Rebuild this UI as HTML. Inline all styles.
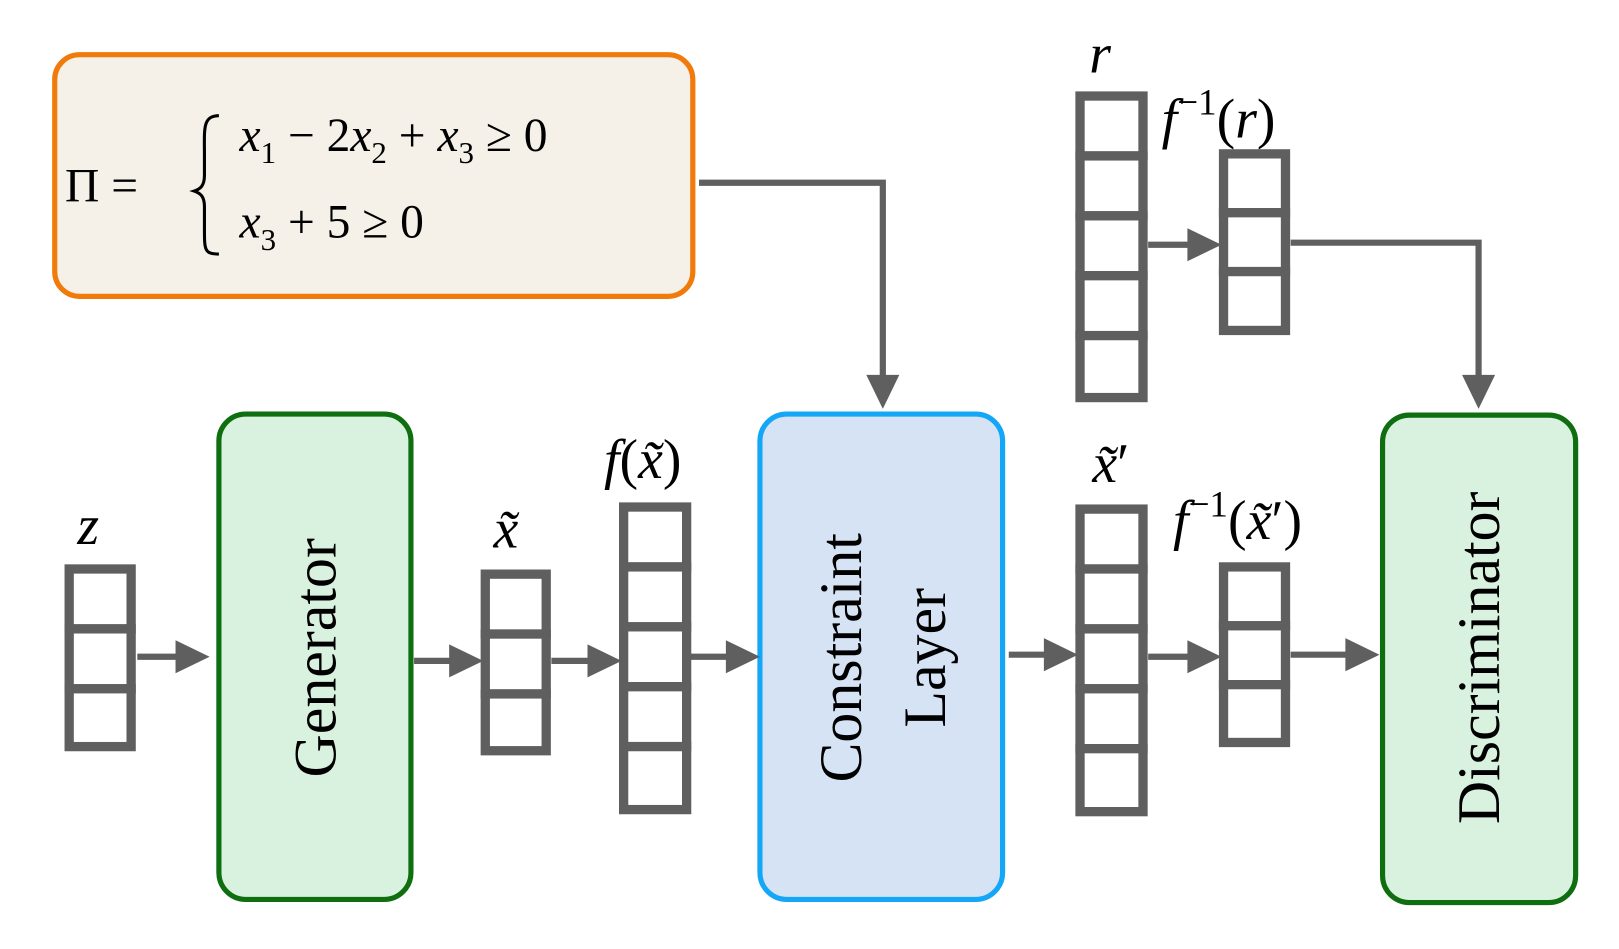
<!DOCTYPE html>
<html><head><style>
html,body{margin:0;padding:0;background:#fff;}
svg{display:block;}
text{font-family:"Liberation Serif",serif;fill:#000;}
.it{font-style:italic;}
</style></head><body>
<svg width="1619" height="949" viewBox="0 0 1568 919" preserveAspectRatio="none" xmlns="http://www.w3.org/2000/svg">
<defs>
<marker id="ah" markerWidth="10" markerHeight="10" refX="9" refY="5" orient="auto" markerUnits="userSpaceOnUse" viewBox="0 0 10 10">
</marker>
</defs>
<!-- boxes -->
<rect x="53" y="53" width="618" height="234" rx="24" fill="#F5F1E8" stroke="#F07A0A" stroke-width="5"/>
<rect x="212" y="401" width="186" height="470" rx="26" fill="#D9F2DF" stroke="#0E6E10" stroke-width="5"/>
<rect x="736" y="401" width="235" height="470" rx="26" fill="#D6E3F4" stroke="#14A7F7" stroke-width="5"/>
<rect x="1339" y="402" width="187" height="472" rx="26" fill="#D9F2DF" stroke="#0E6E10" stroke-width="5"/>

<!-- formula -->
<text x="63" y="195" font-size="46">Π =</text>
<text x="186" y="230" font-size="150" transform="scale(0.55,1)" style="font-size:0"></text>
<path d="M212 112 C196 112 198 125 198 150 L198 170 C198 180 194 183 188 185 C194 187 198 190 198 200 L198 222 C198 242 198 246 212 246" fill="none" stroke="#000" stroke-width="3"/>
<text x="232" y="146" font-size="46"><tspan class="it">x</tspan><tspan font-size="30" dy="12">1</tspan><tspan dy="-12"> − 2</tspan><tspan class="it">x</tspan><tspan font-size="30" dy="12">2</tspan><tspan dy="-12"> + </tspan><tspan class="it">x</tspan><tspan font-size="30" dy="12">3</tspan><tspan dy="-12"> ≥ 0</tspan></text>
<text x="232" y="230" font-size="46"><tspan class="it">x</tspan><tspan font-size="30" dy="12">3</tspan><tspan dy="-12"> + 5 ≥ 0</tspan></text>

<!-- vectors -->
<g fill="#fff" stroke="#5f5f5f" stroke-width="9">
<rect x="67" y="551" width="60" height="58"/><rect x="67" y="609" width="60" height="58"/><rect x="67" y="667" width="60" height="56"/>
<rect x="470" y="556" width="59" height="58"/><rect x="470" y="614" width="59" height="58"/><rect x="470" y="672" width="59" height="55"/>
<rect x="604" y="491" width="61" height="58"/><rect x="604" y="549" width="61" height="58"/><rect x="604" y="607" width="61" height="58"/><rect x="604" y="665" width="61" height="58"/><rect x="604" y="723" width="61" height="61"/>
<rect x="1046" y="493" width="61" height="58"/><rect x="1046" y="551" width="61" height="58"/><rect x="1046" y="609" width="61" height="58"/><rect x="1046" y="667" width="61" height="58"/><rect x="1046" y="725" width="61" height="61"/>
<rect x="1185" y="549" width="60" height="57"/><rect x="1185" y="606" width="60" height="57"/><rect x="1185" y="663" width="60" height="56"/>
<rect x="1046" y="93" width="61" height="58"/><rect x="1046" y="151" width="61" height="58"/><rect x="1046" y="209" width="61" height="58"/><rect x="1046" y="267" width="61" height="58"/><rect x="1046" y="325" width="61" height="60"/>
<rect x="1185" y="149" width="60" height="57"/><rect x="1185" y="206" width="60" height="57"/><rect x="1185" y="263" width="60" height="57"/>
</g>

<!-- connectors -->
<g stroke="#5f5f5f" stroke-width="6" fill="none">
<line x1="133" y1="636" x2="175" y2="636"/>
<line x1="401" y1="640" x2="440" y2="640"/>
<line x1="534" y1="640" x2="574" y2="640"/>
<line x1="669" y1="636" x2="708" y2="636"/>
<line x1="977" y1="634" x2="1016" y2="634"/>
<line x1="1112" y1="636" x2="1155" y2="636"/>
<line x1="1250" y1="634" x2="1308" y2="634"/>
<line x1="1112" y1="237" x2="1155" y2="237"/>
<polyline points="677,177 855,177 855,368"/>
<polyline points="1250,235 1432,235 1432,368"/>
</g>
<g fill="#5f5f5f">
<polygon points="170,620 203,636 170,652"/>
<polygon points="435,624 468,640 435,656"/>
<polygon points="569,624 602,640 569,656"/>
<polygon points="703,620 736,636 703,652"/>
<polygon points="1011,618 1044,634 1011,650"/>
<polygon points="1150,620 1183,636 1150,652"/>
<polygon points="1303,618 1336,634 1303,650"/>
<polygon points="1150,221 1183,237 1150,253"/>
<polygon points="839,363 855,396 871,363"/>
<polygon points="1416,363 1432,396 1448,363"/>
</g>

<!-- labels -->
<text x="75" y="527" font-size="54" class="it">z</text>
<text x="478" y="530" font-size="54" class="it">x̃</text>
<text x="585" y="463" font-size="54"><tspan class="it">f</tspan>(<tspan class="it">x̃</tspan>)</text>
<text x="1058" y="467" font-size="54"><tspan class="it">x̃</tspan>′</text>
<text x="1136" y="522" font-size="54"><tspan class="it">f</tspan><tspan font-size="36" dy="-22">−1</tspan><tspan dy="22">(</tspan><tspan class="it">x̃</tspan>′)</text>
<text x="1055" y="70" font-size="54" class="it">r</text>
<text x="1125" y="133" font-size="54"><tspan class="it">f</tspan><tspan font-size="36" dy="-22">−1</tspan><tspan dy="22">(</tspan><tspan class="it">r</tspan>)</text>

<text transform="translate(325,637) rotate(-90)" text-anchor="middle" font-size="58">Generator</text>
<text transform="translate(834,637) rotate(-90)" text-anchor="middle" font-size="58">Constraint</text>
<text transform="translate(915,637) rotate(-90)" text-anchor="middle" font-size="58">Layer</text>
<text transform="translate(1452,637) rotate(-90)" text-anchor="middle" font-size="58">Discriminator</text>
</svg>
</body></html>
